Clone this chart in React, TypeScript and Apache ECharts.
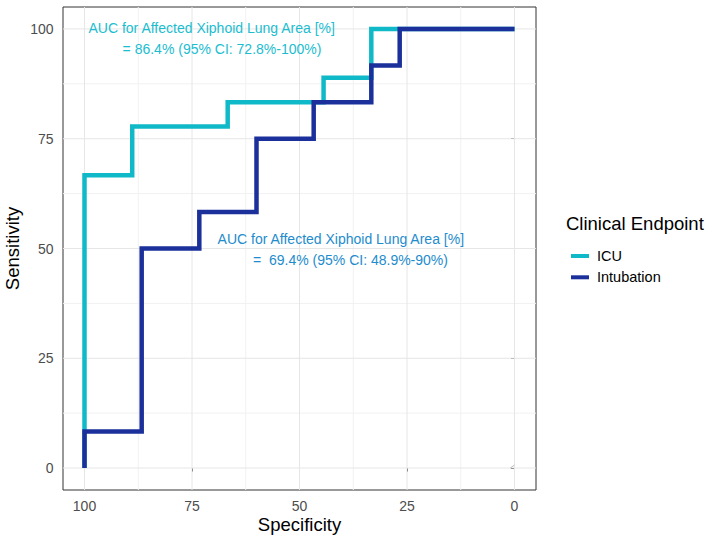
import React, { useEffect, useRef } from "react";
import * as echarts from "echarts";

// ROC coordinates (specificity %, sensitivity %)
const icuSpec = [100, 100, 88.9, 88.9, 66.7, 66.7, 44.4, 44.4, 33.3, 33.3, 0];
const icuSens = [0, 66.7, 66.7, 77.8, 77.8, 83.3, 83.3, 88.9, 88.9, 100, 100];

const intSpec = [100, 100, 86.7, 86.7, 73.3, 73.3, 60, 60, 46.7, 46.7, 33.3, 33.3, 26.7, 26.7, 0];
const intSens = [0, 8.3, 8.3, 50, 50, 58.3, 58.3, 75, 75, 83.3, 83.3, 91.7, 91.7, 100, 100];

const refSpec = [1, 0];
const refSens = [0, 0.7];

const majorBreaks = [0, 25, 50, 75, 100];
const minorBreaks = [12.5, 37.5, 62.5, 87.5];
const axisLimits = [-5, 105];

const seriesNames = ["ICU", "Intubation"];
const seriesColors = ["#10B9C8", "#1B309B"];

const annot1 = ["AUC for Affected Xiphoid Lung Area [%]", "= 86.4% (95% CI: 72.8%-100%)"];
const annot2 = ["AUC for Affected Xiphoid Lung Area [%]", "=  69.4% (95% CI: 48.9%-90%)"];

const FONT = "'Liberation Sans', Arial, Helvetica, sans-serif";

export default function App() {
  const ref = useRef<HTMLDivElement>(null);
  useEffect(() => {
    if (!ref.current) return;
    const chart = echarts.init(ref.current, null, { renderer: "svg" });
    const zip = (a: number[], b: number[]) => a.map((v, i) => [v, b[i]]);
    const gridSeries = (v: number, vertical: boolean, color: string) => ({
      type: "line",
      data: vertical ? axisLimits.map((l) => [v, l]) : axisLimits.map((l) => [l, v]),
      showSymbol: false,
      symbol: "none",
      silent: true,
      lineStyle: { color, width: 1 },
      z: 1,
    });
    const grids = [
      ...minorBreaks.map((v) => gridSeries(v, true, "#F1F1F1")),
      ...minorBreaks.map((v) => gridSeries(v, false, "#F1F1F1")),
      ...majorBreaks.map((v) => gridSeries(v, true, "#E6E6E6")),
      ...majorBreaks.map((v) => gridSeries(v, false, "#E6E6E6")),
    ];
    chart.setOption({
      animation: false,
      backgroundColor: "#FFFFFF",
      textStyle: { fontFamily: FONT },
      grid: {
        left: 63,
        top: 7,
        width: 473,
        height: 483,
        show: true,
        borderColor: "#333333",
        borderWidth: 1,
        backgroundColor: "#FFFFFF",
        z: 0,
      },
      xAxis: {
        type: "value",
        inverse: true,
        min: axisLimits[0],
        max: axisLimits[1],
        axisLine: { show: false },
        splitLine: { show: false },
        axisTick: { show: true, customValues: majorBreaks, length: 3.5, lineStyle: { color: "#333333", width: 1 } },
        axisLabel: { customValues: majorBreaks, color: "#4D4D4D", fontSize: 14, margin: 8.5, fontFamily: FONT },
      },
      yAxis: {
        type: "value",
        min: axisLimits[0],
        max: axisLimits[1],
        axisLine: { show: false },
        splitLine: { show: false },
        axisTick: { show: true, customValues: majorBreaks, length: 3.5, lineStyle: { color: "#333333", width: 1 } },
        axisLabel: { customValues: majorBreaks, color: "#4D4D4D", fontSize: 14, margin: 9.5, fontFamily: FONT },
      },
      legend: {
        data: seriesNames,
        orient: "vertical",
        left: 566,
        top: 243,
        itemWidth: 18,
        itemHeight: 4,
        itemGap: 5.3,
        icon: "rect",
        textStyle: { fontSize: 14.5, color: "#000000", fontFamily: FONT, lineHeight: 16, padding: [0, 0, 0, 3] },
      },
      series: [
        ...grids,
        {
          name: "ref",
          type: "line",
          data: zip(refSpec, refSens),
          showSymbol: false,
          symbol: "none",
          silent: true,
          lineStyle: { color: "#BDBDBD", width: 1 },
          z: 2,
        },
        {
          name: seriesNames[0],
          type: "line",
          data: zip(icuSpec, icuSens),
          showSymbol: false,
          symbol: "none",
          lineStyle: { color: seriesColors[0], width: 4.5, join: "miter", cap: "butt" },
          itemStyle: { color: seriesColors[0] },
          z: 3,
        },
        {
          name: seriesNames[1],
          type: "line",
          data: zip(intSpec, intSens),
          showSymbol: false,
          symbol: "none",
          lineStyle: { color: seriesColors[1], width: 4.5, join: "miter", cap: "butt" },
          itemStyle: { color: seriesColors[1] },
          z: 4,
        },
      ],
      graphic: [
        { type: "text", x: 211.7, y: 28, z: 10, style: { text: annot1[0], fill: "#1BBDCF", fontSize: 14, fontFamily: FONT, align: "center", verticalAlign: "middle" } },
        { type: "text", x: 222, y: 49, z: 10, style: { text: annot1[1], fill: "#1BBDCF", fontSize: 14, fontFamily: FONT, align: "center", verticalAlign: "middle" } },
        { type: "text", x: 340.8, y: 239, z: 10, style: { text: annot2[0], fill: "#1E8CCD", fontSize: 14, fontFamily: FONT, align: "center", verticalAlign: "middle" } },
        { type: "text", x: 350.5, y: 259.5, z: 10, style: { text: annot2[1], fill: "#1E8CCD", fontSize: 14, fontFamily: FONT, align: "center", verticalAlign: "middle" } },
        { type: "text", x: 299.5, y: 524, style: { text: "Specificity", fill: "#000000", fontSize: 18.5, fontFamily: FONT, align: "center", verticalAlign: "middle" } },
        { type: "text", x: 12, y: 248.5, rotation: Math.PI / 2, style: { text: "Sensitivity", fill: "#000000", fontSize: 18.5, fontFamily: FONT, align: "center", verticalAlign: "middle" } },
        { type: "text", x: 566, y: 223, style: { text: "Clinical Endpoint", fill: "#000000", fontSize: 18.5, fontFamily: FONT, align: "left", verticalAlign: "middle" } },
      ],
    });
    return () => chart.dispose();
  }, []);
  return <div ref={ref} style={{ position: "fixed", left: 0, top: 0, width: 714, height: 541 }} />;
}
